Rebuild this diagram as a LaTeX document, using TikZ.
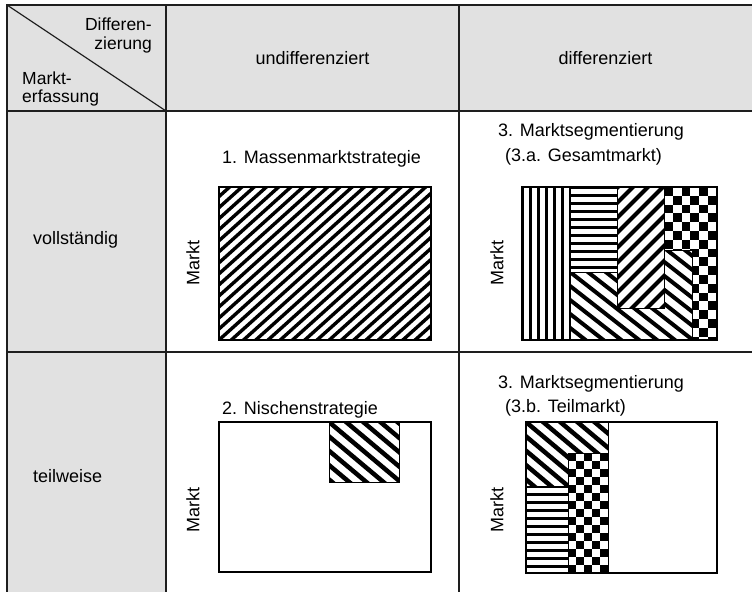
\documentclass[tikz,border=0pt]{standalone}
\usepackage{fontspec}
\setmainfont{Liberation Sans}
\usetikzlibrary{positioning,calc}
\definecolor{cellgray}{HTML}{E1E1E1}
\definecolor{rulegray}{HTML}{1E1E1E}
\tikzset{
    every picture/.style={line join=miter},
    gridline/.style={draw=rulegray,line width=1.7pt},
    diagline/.style={draw=rulegray,line width=1.2pt},
    marktbox/.style={draw=black,line width=1.4pt},
    subbox/.style={draw=black,line width=0.8pt},
    stripe/.style={draw=black,line width=#1},
    stripe/.default=3.2pt,
    celltext/.style={font=\fontsize{18}{21}\selectfont,inner sep=0pt,text=black},
    cornertext/.style={celltext,font=\fontsize{17.5}{20}\selectfont},
    markttext/.style={celltext,rotate=90}
}
% stripes: clip path, anchor, angle, gap, width
\newcommand{\stripes}[5]{%
  \begin{scope}
    \clip #1;
    \begin{scope}[shift={(#2)},rotate=#3]
      \foreach \k in {-40,...,40}
        \draw[stripe=#5] (-400,\k*#4) -- (400,\k*#4);
    \end{scope}
  \end{scope}}
% checker: clip path, anchor, square size
\newcommand{\checker}[3]{%
  \begin{scope}
    \clip #1;
    \begin{scope}[shift={(#2)}]
      \foreach \i in {0,...,9}
        \foreach \j in {0,...,19} {
          \pgfmathtruncatemacro\chk{mod(\i+\j,2)}
          \ifnum\chk=0 \fill (\i*#3,\j*#3) rectangle ++(#3,#3);\fi
        }
    \end{scope}
  \end{scope}}

\begin{document}
\begin{tikzpicture}[x=1pt,y=-1pt]
  \useasboundingbox (0,0) rectangle (752,592);
  \fill[cellgray] (7,5) rectangle (752,111);
  \fill[cellgray] (7,111) rectangle (166,592);
  \draw[gridline] (752,5) -- (7,5) -- (7,592);
  \foreach \y in {111,352}
    \draw[gridline] (7,\y) -- (752,\y);
  \foreach \x in {166,459}
    \draw[gridline] (\x,5) -- (\x,592);
  \draw[diagline] (7,5) -- (166,111);

  \node[cornertext,anchor=base east] (diff1) at (152,30) {Differen-};
  \node[cornertext,anchor=base east] (diff2) at (152,49) {zierung};
  \node[cornertext,anchor=base west] (erf1) at (22,84) {Markt-};
  \node[cornertext,anchor=base west] (erf2) at (22,102) {erfassung};
  \node[celltext,anchor=base] (undiff) at (312.5,64.5) {undifferenziert};
  \node[celltext,anchor=base] (diff) at (605.5,64.5) {differenziert};
  \node[celltext,anchor=base west] (voll) at (33,244.5) {vollständig};
  \node[celltext,anchor=base west] (teil) at (33,482.5) {teilweise};

  \node[celltext,anchor=base west] (massen) at (222,163.5) {1. Massenmarktstrategie};
  \node[celltext,anchor=base west] (segA) at (498,136.5) {3. Marktsegmentierung};
  \node[celltext,anchor=base west] (gesamt) at (505,161.5) {(3.a. Gesamtmarkt)};
  \node[celltext,anchor=base west] (nische) at (222,414.5) {2. Nischenstrategie};
  \node[celltext,anchor=base west] (segB) at (498,388.5) {3. Marktsegmentierung};
  \node[celltext,anchor=base west] (teilm) at (505,412.5) {(3.b. Teilmarkt)};

  \foreach \name/\x/\y in {mA/193/263,mB/497/263,mC/193/510,mD/497/510}
    \node[markttext] (\name) at (\x,\y) {Markt};

  % massenmarkt
  \stripes{(219,187) rectangle (431,340)}{219,340}{42}{8.2}{3.4pt}
  \draw[marktbox] (219,187) rectangle (431,340);

  % gesamtmarkt
  \stripes{(522,187) rectangle (570,340)}{522,187}{90}{8}{3pt}
  \stripes{(570,187) rectangle (617,272)}{570,187}{0}{8}{3pt}
  \stripes{(617,187) rectangle (664,308)}{617,308}{45}{10.6}{4pt}
  \checker{(664,187) -- (717,187) -- (717,340) -- (692,340) -- (692,250) -- (664,250) -- cycle}{664,187}{8.8}
  \stripes{(570,272) -- (617,272) -- (617,308) -- (664,308) -- (664,250) -- (692,250) -- (692,340) -- (570,340) -- cycle}{570,272}{-38}{11}{4pt}
  \draw[subbox] (570,187) -- (570,340);
  \draw[subbox] (570,272) -- (617,272) -- (617,187);
  \draw[subbox] (617,272) -- (617,308) -- (664,308) -- (664,187);
  \draw[subbox] (664,250) -- (692,250) -- (692,340);
  \draw[marktbox] (522,187) rectangle (717,340);

  % nische
  \stripes{(329,422) rectangle (399,482)}{329,422}{-40}{11}{4.5pt}
  \draw[subbox] (329,422) rectangle (399,482);
  \draw[marktbox] (219,422) rectangle (431,572);

  % teilmarkt
  \stripes{(526,422) -- (608,422) -- (608,453) -- (568,453) -- (568,486) -- (526,486) -- cycle}{526,422}{-40}{11}{4.5pt}
  \stripes{(526,486) rectangle (568,573)}{526,486}{0}{8}{3pt}
  \checker{(568,453) rectangle (608,573)}{568,453}{8}
  \draw[subbox] (526,486) -- (568,486) -- (568,453) -- (608,453);
  \draw[subbox] (568,486) -- (568,573);
  \draw[subbox] (608,422) -- (608,573);
  \draw[marktbox] (526,422) rectangle (717,573);
\end{tikzpicture}
\end{document}
